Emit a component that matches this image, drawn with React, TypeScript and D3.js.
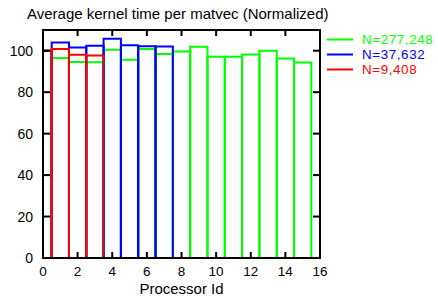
import React from "react";
import * as d3 from "d3";

const titleText = "Average kernel time per matvec (Normalized)";
const xLabel = "Processor Id";
const seriesLabels = ["N=277,248", "N=37,632", "N=9,408"];
const seriesColors = ["#00ff00", "#0000ff", "#ff0000"];
// values indexed by processor id
const valuesN277248 = [100, 96.5, 94.6, 94.5, 100.5, 95.7, 100.8, 98.4, 99.6, 101.9, 97.1, 97.1, 98.2, 100.0, 96.3, 94.3];
const valuesN37632 = [100, 104.0, 101.5, 102.4, 105.8, 102.7, 102.2, 102.0];
const valuesN9408 = [100, 100.8, 98.1, 97.7];
const xTicks = [0, 2, 4, 6, 8, 10, 12, 14, 16];
const yTicks = [0, 20, 40, 60, 80, 100];

const W = 438;
const H = 299;
const L = 43, R = 320, T = 30, B = 258;

export default function App() {
  const x = d3.scaleLinear().domain([0, 16]).range([L, R]);
  const y = d3.scaleLinear().domain([0, 110]).range([B, T]);
  const series = [valuesN277248, valuesN37632, valuesN9408];
  const font = "'Liberation Sans', Arial, Helvetica, sans-serif";
  return (
    <svg width={W} height={H} style={{ position: "absolute", left: 0, top: 0, background: "#fff" }} fontFamily={font}>
      <defs>
        <clipPath id="plotclip">
          <rect x={L} y={T} width={R - L} height={B - T} />
        </clipPath>
      </defs>
      <text x={27} y={19} fontSize={15} fill="#000">{titleText}</text>
      <g clipPath="url(#plotclip)">
        {series.map((vals, si) => (
          <g key={si}>
            {vals.map((v, i) => {
              const x0 = x(i - 0.5), x1 = x(i + 0.5), yt = y(v), yb = y(0);
              const d = d3.path();
              d.moveTo(x0, yb);
              d.lineTo(x0, yt);
              d.lineTo(x1, yt);
              d.lineTo(x1, yb);
              return <path key={i} d={d.toString()} fill="none" stroke={seriesColors[si]} strokeWidth={2} />;
            })}
          </g>
        ))}
      </g>
      {xTicks.map((t) => (
        <g key={"xt" + t}>
          <line x1={x(t)} x2={x(t)} y1={B} y2={B - 6} stroke="#000" strokeWidth={2} />
          <line x1={x(t)} x2={x(t)} y1={T} y2={T + 6} stroke="#000" strokeWidth={2} />
          <text x={x(t)} y={276} fontSize={13.5} textAnchor="middle" fill="#000">{t}</text>
        </g>
      ))}
      {yTicks.map((t) => (
        <g key={"yt" + t}>
          <line x1={L} x2={L + 7} y1={y(t)} y2={y(t)} stroke="#000" strokeWidth={2} />
          <line x1={R} x2={R - 7} y1={y(t)} y2={y(t)} stroke="#000" strokeWidth={2} />
          <text x={33} y={y(t)} dy="0.36em" fontSize={14} textAnchor="end" fill="#000">{t}</text>
        </g>
      ))}
      <rect x={L} y={T} width={R - L} height={B - T} fill="none" stroke="#000" strokeWidth={2} />
      <text x={(L + R) / 2} y={294} fontSize={15} textAnchor="middle" fill="#000">{xLabel}</text>
      {seriesLabels.map((lab, i) => (
        <g key={lab}>
          <line x1={327} x2={353} y1={39.5 + i * 15} y2={39.5 + i * 15} stroke={seriesColors[i]} strokeWidth={2} />
          <text x={362} y={39.5 + i * 15} dy="0.36em" fontSize={13.4} letterSpacing={0.6} fill={seriesColors[i]}>{lab}</text>
        </g>
      ))}
    </svg>
  );
}
